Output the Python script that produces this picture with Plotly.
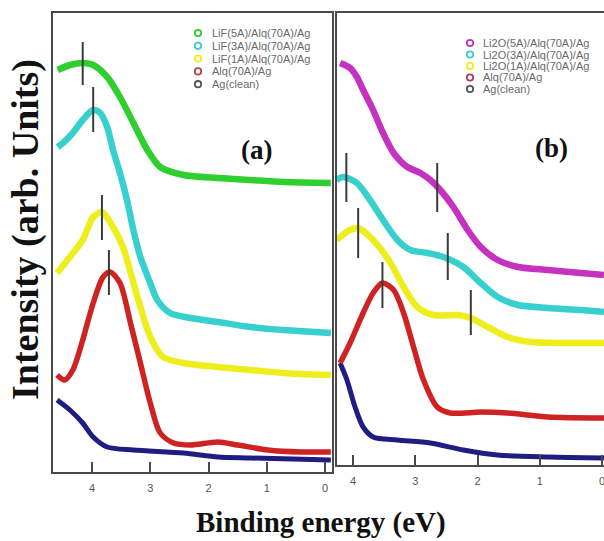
import plotly.graph_objects as go

# ---------------- Panel (a) data: binding energy (eV) vs intensity (arb.) ----------------
A_LIF5_E = [4.59, 4.38, 4.16, 3.98, 3.74, 3.52, 3.29, 3.05, 2.83, 2.43, 1.84, 1.28, 0.71, -0.1]
A_LIF5_I = [402, 407, 409, 407, 395, 375, 349, 322, 305, 297, 294, 292, 290, 289]

A_LIF3_E = [4.59, 4.5, 4.33, 4.16, 3.98, 3.86, 3.74, 3.64, 3.52, 3.4, 3.29, 3.17, 3.0, 2.88, 2.66, 2.31, 1.84, 1.28, 0.71, -0.1]
A_LIF3_I = [325, 329, 339, 352, 362, 359, 345, 322, 299, 272, 242, 215, 189, 172, 159, 154, 150, 145, 142, 139]

A_LIF1_E = [4.6, 4.38, 4.16, 3.98, 3.83, 3.64, 3.47, 3.22, 3.0, 2.78, 2.43, 1.84, 1.28, 0.71, -0.1]
A_LIF1_I = [199, 215, 232, 255, 260, 245, 225, 175, 135, 115, 109, 105, 102, 99, 97]

A_ALQ_E = [4.6, 4.47, 4.33, 4.16, 3.98, 3.81, 3.69, 3.52, 3.34, 3.17, 3.0, 2.83, 2.6, 2.31, 1.84, 1.5, 0.98, 0.41, -0.1]
A_ALQ_I = [97, 92, 102, 132, 169, 195, 200, 189, 149, 109, 69, 39, 29, 27, 30, 27, 22, 20, 20]

A_AG_E = [4.6, 4.38, 4.16, 3.98, 3.74, 3.29, 2.43, 1.84, 1.28, -0.1]
A_AG_I = [72, 62, 49, 35, 25, 22, 19, 15, 14, 12]

A_PEAK_E = [4.16, 3.98, 3.83, 3.71]
A_PEAK_LO = [387, 340, 232, 177]
A_PEAK_HI = [430, 385, 277, 222]

A_LABELS = ["LiF(5A)/Alq(70A)/Ag", "LiF(3A)/Alq(70A)/Ag", "LiF(1A)/Alq(70A)/Ag", "Alq(70A)/Ag", "Ag(clean)"]

# ---------------- Panel (b) data ----------------
B_LI5_E = [4.21, 4.05, 3.94, 3.84, 3.68, 3.52, 3.35, 3.13, 2.92, 2.76, 2.6, 2.39, 2.16, 1.95, 1.68, 1.35, 0.87, 0.34, -0.03]
B_LI5_I = [409, 404, 395, 382, 362, 339, 319, 305, 299, 292, 282, 265, 242, 225, 212, 205, 202, 199, 197]

B_LI3_E = [4.27, 4.16, 3.94, 3.73, 3.52, 3.29, 3.08, 2.81, 2.55, 2.23, 1.95, 1.68, 1.35, 0.87, 0.34, -0.03]
B_LI3_I = [292, 295, 289, 272, 252, 232, 222, 219, 215, 205, 189, 175, 167, 164, 162, 160]

B_LI1_E = [4.27, 4.05, 3.92, 3.68, 3.4, 3.19, 2.97, 2.71, 2.32, 2.11, 1.84, 1.52, 1.15, 0.61, -0.03]
B_LI1_I = [232, 242, 244, 232, 209, 185, 165, 157, 157, 154, 145, 135, 130, 129, 129]

B_ALQ_E = [4.21, 4.05, 3.84, 3.68, 3.53, 3.35, 3.19, 3.03, 2.87, 2.65, 2.44, 1.95, 1.52, 0.87, -0.03]
B_ALQ_I = [109, 129, 159, 179, 189, 182, 159, 125, 92, 65, 59, 60, 59, 55, 54]

B_AG_E = [4.21, 4.1, 3.97, 3.84, 3.68, 3.29, 2.76, 2.23, 1.68, 0.87, -0.03]
B_AG_I = [109, 92, 65, 45, 35, 32, 29, 22, 17, 15, 14]

B_PEAK_E = [4.11, 3.92, 3.53, 2.65, 2.48, 2.11]
B_PEAK_LO = [270, 214, 164, 260, 192, 137]
B_PEAK_HI = [319, 264, 210, 309, 239, 182]

B_LABELS = ["Li2O(5A)/Alq(70A)/Ag", "Li2O(3A)/Alq(70A)/Ag", "Li2O(1A)/Alq(70A)/Ag", "Alq(70A)/Ag", "Ag(clean)"]

TICK_VALS = [4, 3, 2, 1, 0]
TICK_TEXT = ["4", "3", "2", "1", "0"]

# ---------------- styles ----------------
GREEN = "#2fcf2f"
CYAN = "#38cfcf"
YELLOW = "#eeee1c"
RED = "#cf2222"
NAVY = "#1e1e82"
MAGENTA = "#c632c0"
AXIS = "#4a4a4a"

W, H = 604, 541
ML, MR, MT, MB = 53, 0, 13, 69
PW, PH = W - ML - MR, H - MT - MB


def px(xp):
    return (xp - ML) / PW


def py(yp):
    return (H - MB - yp) / PH


fig = go.Figure()


def curve(x, y, color, width, xa, ya):
    fig.add_trace(go.Scatter(x=x, y=y, mode="lines",
                             line=dict(color=color, width=width, shape="spline", smoothing=0.8),
                             xaxis=xa, yaxis=ya, showlegend=False, hoverinfo="skip"))


# panel (a) curves
curve(A_AG_E, A_AG_I, NAVY, 5, "x", "y")
curve(A_ALQ_E, A_ALQ_I, RED, 5.5, "x", "y")
curve(A_LIF1_E, A_LIF1_I, YELLOW, 6.5, "x", "y")
curve(A_LIF3_E, A_LIF3_I, CYAN, 6.5, "x", "y")
curve(A_LIF5_E, A_LIF5_I, GREEN, 6.5, "x", "y")

# panel (b) curves
curve(B_AG_E, B_AG_I, NAVY, 5, "x2", "y2")
curve(B_ALQ_E, B_ALQ_I, RED, 5.5, "x2", "y2")
curve(B_LI1_E, B_LI1_I, YELLOW, 6.5, "x2", "y2")
curve(B_LI3_E, B_LI3_I, CYAN, 6.5, "x2", "y2")
curve(B_LI5_E, B_LI5_I, MAGENTA, 6.5, "x2", "y2")

# peak markers
for e, lo, hi in zip(A_PEAK_E, A_PEAK_LO, A_PEAK_HI):
    fig.add_trace(go.Scatter(x=[e, e], y=[lo, hi], mode="lines", line=dict(color="#3a3a3a", width=2),
                             xaxis="x", yaxis="y", showlegend=False, hoverinfo="skip"))
for e, lo, hi in zip(B_PEAK_E, B_PEAK_LO, B_PEAK_HI):
    fig.add_trace(go.Scatter(x=[e, e], y=[lo, hi], mode="lines", line=dict(color="#3a3a3a", width=2),
                             xaxis="x2", yaxis="y2", showlegend=False, hoverinfo="skip"))

# compact legends (open circle + label), drawn as layout decorations
A_LEG_COLORS = [GREEN, CYAN, YELLOW, "#b04848", "#555555"]
B_LEG_COLORS = [MAGENTA, CYAN, YELLOW, "#b03a60", "#555555"]
legfont = dict(family="Liberation Sans, Arial", size=11, color="#6a6a6a")

shapes = []
annotations = []


def add_legend(labels, colors, mx, tx, y0, dy):
    for i, (lab, col) in enumerate(zip(labels, colors)):
        yy = y0 + i * dy
        shapes.append(dict(type="circle", xref="paper", yref="paper", xsizemode="pixel", ysizemode="pixel",
                           xanchor=px(mx), yanchor=py(yy), x0=-3.2, x1=3.2, y0=-3.2, y1=3.2,
                           line=dict(color=col, width=1.8)))
        annotations.append(dict(text=lab, xref="paper", yref="paper", x=px(tx), y=py(yy),
                                xanchor="left", yanchor="middle", showarrow=False, font=legfont))


add_legend(A_LABELS, A_LEG_COLORS, 198, 210, 33, 12.8)
add_legend(B_LABELS, B_LEG_COLORS, 470, 481, 43, 11.5)

serif = "Liberation Serif, Times New Roman"
annotations += [
    dict(text="<b>Intensity (arb. Units)</b>", xref="paper", yref="paper", x=px(25), y=py(230),
         textangle=-90, showarrow=False, xanchor="center", yanchor="middle",
         font=dict(family=serif, size=38, color="#111")),
    dict(text="<b>Binding energy (eV)</b>", xref="paper", yref="paper", x=px(320.5), y=py(522),
         showarrow=False, xanchor="center", yanchor="middle",
         font=dict(family=serif, size=29, color="#111")),
    dict(text="<b>(a)</b>", xref="paper", yref="paper", x=px(256), y=py(150), showarrow=False,
         xanchor="center", yanchor="middle", font=dict(family=serif, size=27, color="#111")),
    dict(text="<b>(b)</b>", xref="paper", yref="paper", x=px(551), y=py(148), showarrow=False,
         xanchor="center", yanchor="middle", font=dict(family=serif, size=27, color="#111")),
]

tickfont = dict(family="Liberation Sans Narrow, Liberation Sans, Arial", size=11, color="#555")
common_x = dict(tickvals=TICK_VALS, ticktext=TICK_TEXT, ticks="inside", ticklen=10, tickwidth=1.5, tickcolor=AXIS,
                showline=True, linecolor=AXIS, linewidth=1.5, showgrid=False, zeroline=False, tickfont=tickfont,
                ticklabelstandoff=5, ticklabeloverflow="allow")

fig.update_layout(
    width=W, height=H,
    margin=dict(l=ML, r=MR, t=MT, b=MB),
    paper_bgcolor="white", plot_bgcolor="white",
    showlegend=False,
    xaxis=dict(domain=[0, px(332)], range=[4.67, -0.12], mirror=True, anchor="y", **common_x),
    yaxis=dict(domain=[0, 1], range=[0, 459], showline=True, mirror=True, linecolor=AXIS, linewidth=1.5,
               showticklabels=False, ticks="", showgrid=False, zeroline=False, anchor="x"),
    xaxis2=dict(domain=[px(337), 1], range=[4.26, -0.03], mirror=True, anchor="y2", **common_x),
    yaxis2=dict(domain=[py(465), 1], range=[7, 459], showline=True, mirror=False, linecolor=AXIS, linewidth=1.5,
                showticklabels=False, ticks="", showgrid=False, zeroline=False, anchor="x2"),
    shapes=shapes,
    annotations=annotations,
)

fig.write_html("out.html")
